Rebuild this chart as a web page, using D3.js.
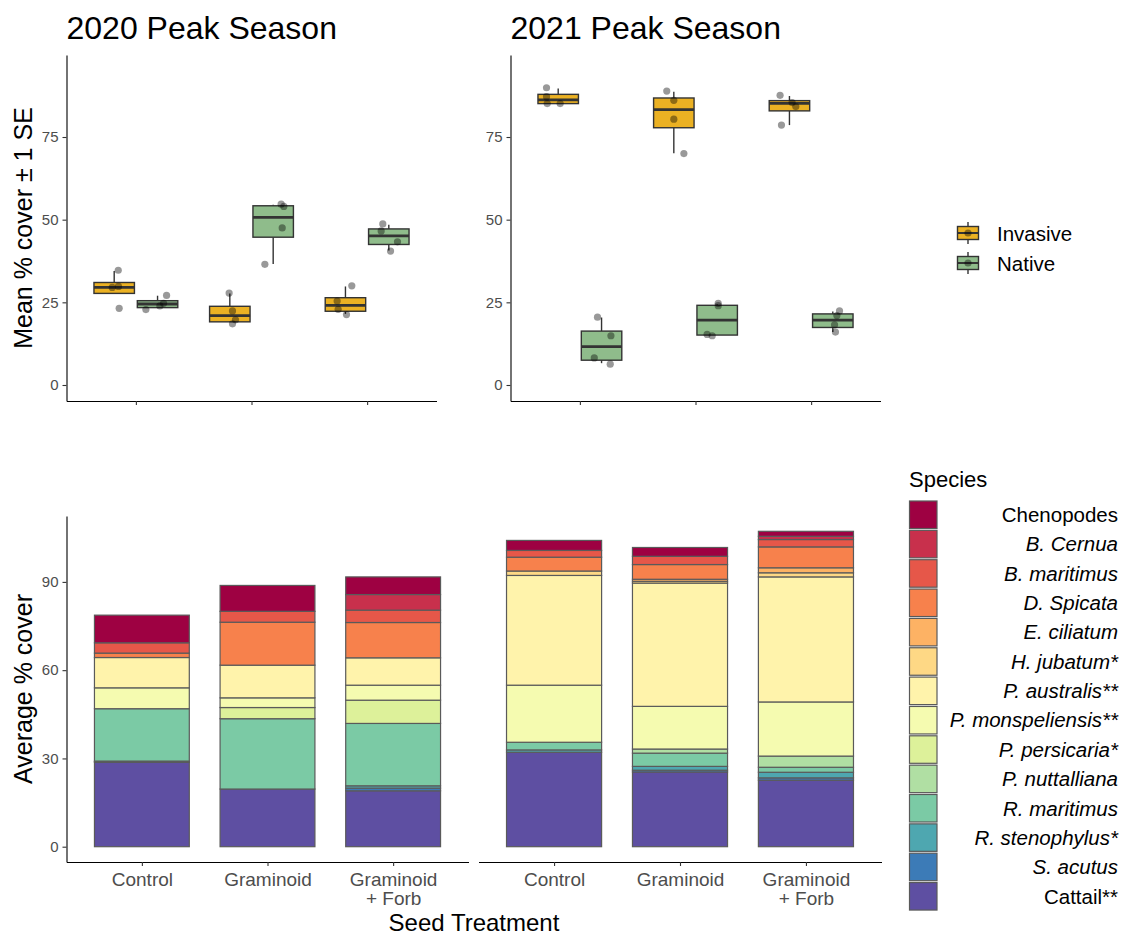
<!DOCTYPE html>
<html>
<head>
<meta charset="utf-8">
<script src="https://cdn.jsdelivr.net/npm/d3@7"></script>
<style>
  body { margin: 0; background: #fff; }
  svg { display: block; }
  text { font-family: "Liberation Sans", Arial, sans-serif; }
</style>
</head>
<body>
<svg id="chart" width="1121" height="936"></svg>
<script>
// ---------------- data ----------------
const treatments = ["Control", "Graminoid", "Graminoid + Forb"];
const groups = ["Invasive", "Native"];
const panelTitles = ["2020 Peak Season", "2021 Peak Season"];
const boxTicks = [0, 25, 50, 75];
const barTicks = [0, 30, 60, 90];

// box summaries per treatment: [lower whisker, Q1, median, Q3, upper whisker]
const box2020Invasive = [[27.7, 27.7, 29.5, 31.0, 34.5], [19.1, 19.1, 21.0, 23.8, 27.7], [21.5, 22.3, 24.1, 26.4, 29.8]];
const box2020Native   = [[23.4, 23.4, 24.5, 25.5, 27.0], [36.6, 44.7, 50.7, 54.2, 54.5], [40.7, 42.5, 45.1, 47.2, 48.5]];
const box2021Invasive = [[85.1, 85.1, 86.2, 87.9, 89.7], [70.1, 77.8, 83.3, 86.8, 88.7], [78.6, 82.9, 85.2, 86.0, 87.4]];
const box2021Native   = [[6.6, 7.5, 11.6, 16.3, 20.4], [15.1, 15.1, 19.6, 24.1, 24.4], [16.0, 17.4, 19.6, 21.5, 22.2]];

// plot-level observations per treatment
const obs2020Invasive = [[34.7, 29.5, 29.8, 23.2], [27.8, 22.4, 19.7, 18.5], [30.0, 25.4, 22.9, 21.3]];
const obs2020Native   = [[27.1, 22.8, 23.9, 24.7], [54.7, 54.0, 47.5, 36.5], [48.7, 46.6, 43.3, 40.5]];
const obs2021Invasive = [[89.9, 87.2, 85.1, 85.1], [88.9, 86.1, 80.4, 70.0], [87.6, 85.4, 84.2, 78.6]];
const obs2021Native   = [[20.5, 14.9, 8.2, 6.3], [24.7, 24.0, 15.3, 14.9], [22.4, 21.0, 18.2, 16.0]];

// horizontal jitter of each observation, as a fraction of the category step
const jit2020Invasive = [[0.035, -0.017, 0.037, 0.043], [-0.006, 0.023, 0.049, 0.023], [0.055, -0.072, -0.063, 0.009]];
const jit2020Native   = [[0.078, -0.101, 0.020, 0.052], [0.069, 0.092, 0.078, -0.072], [-0.052, -0.066, 0.075, 0.015]];
const jit2021Invasive = [[-0.101, -0.101, -0.095, 0.017], [-0.061, 0.0, 0.0, 0.087], [-0.081, 0.023, 0.055, -0.069]];
const jit2021Native   = [[-0.035, 0.081, -0.063, 0.075], [0.009, 0.009, -0.087, -0.043], [0.058, 0.035, 0.015, 0.023]];

// species, in legend order (top of stack first)
const species = ["Chenopodes", "B. Cernua", "B. maritimus", "D. Spicata", "E. ciliatum", "H. jubatum*",
  "P. australis**", "P. monspeliensis**", "P. persicaria*", "P. nuttalliana", "R. maritimus",
  "R. stenophylus*", "S. acutus", "Cattail**"];
const uprightSpecies = ["Chenopodes", "Cattail**"];

// average % cover per species (legend order)
const cover2020Control   = [9.4, 0, 3.5, 1.5, 0, 0, 10.3, 7.1, 0, 0, 17.8, 0.2, 0.2, 28.7];
const cover2020Graminoid = [8.8, 0, 3.7, 14.6, 0, 0, 11.1, 3.3, 3.8, 0, 23.9, 0, 0, 19.6];
const cover2020GramForb  = [6.0, 5.3, 4.2, 12.0, 0, 0, 9.3, 5.1, 7.9, 0, 21.2, 0.8, 0.9, 19.0];
const cover2021Control   = [3.4, 0, 2.3, 4.7, 0, 1.5, 37.3, 19.4, 0, 0, 2.6, 0.8, 0, 32.1];
const cover2021Graminoid = [3.0, 0, 2.8, 5.0, 0.7, 0.6, 41.9, 14.5, 0, 1.4, 4.5, 1.3, 0.6, 25.4];
const cover2021GramForb  = [1.7, 1.1, 2.5, 7.1, 1.7, 1.4, 42.5, 18.4, 0, 3.8, 1.7, 1.9, 0.8, 22.6];

// ---------------- styling ----------------
const groupFill = { Invasive: "#EBB123", Native: "#8FBC8B" };
const spectral = ["#9E0142", "#D53E4F", "#F46D43", "#FDAE61", "#FEE08B", "#FFFFBF",
                  "#E6F598", "#ABDDA4", "#66C2A5", "#3288BD", "#5E4FA2"];
const ramp = d3.piecewise(d3.interpolateRgb, spectral);
const speciesColor = d3.scaleOrdinal()
  .domain(species)
  .range(species.map((_, i) => ramp(i / (species.length - 1))));

const svg = d3.select("#chart");
const FONT_TICK = 15, FONT_XTICK = 19, FONT_AXIS = 25, FONT_TITLE = 32, FONT_LEGEND = 20.5;
const tickGrey = "#4D4D4D";
const lineDark = "#333";

function styleAxis(g) {
  g.select(".domain").attr("stroke", "#000").attr("stroke-width", 1.1);
  g.selectAll(".tick line").attr("stroke", lineDark).attr("stroke-width", 1.1);
  g.selectAll(".tick text").attr("fill", tickGrey).attr("font-family", "'Liberation Sans', Arial, sans-serif");
}

// ---------------- top row: boxplots ----------------
const topY = d3.scaleLinear().domain([-4.84, 99.8]).range([401, 55]);
const topPanels = [
  { x0: 66.5, x1: 436.5, boxes: [box2020Invasive, box2020Native], obs: [obs2020Invasive, obs2020Native], jit: [jit2020Invasive, jit2020Native] },
  { x0: 510.5, x1: 880.5, boxes: [box2021Invasive, box2021Native], obs: [obs2021Invasive, obs2021Native], jit: [jit2021Invasive, jit2021Native] }
];

topPanels.forEach((p, pi) => {
  const x = d3.scalePoint().domain(treatments).range([p.x0, p.x1]).padding(0.6);
  const step = x.step();
  const dodge = 0.1875 * step, bw = 0.35 * step;
  const g = svg.append("g");

  groups.forEach((grp, gi) => {
    const off = gi === 0 ? -dodge : dodge;
    treatments.forEach((t, ti) => {
      const s = p.boxes[gi][ti];
      const cx = x(t) + off;
      const bg = g.append("g");
      // whiskers
      bg.append("line").attr("x1", cx).attr("x2", cx).attr("y1", topY(s[3])).attr("y2", topY(s[4]))
        .attr("stroke", lineDark).attr("stroke-width", 1.4);
      bg.append("line").attr("x1", cx).attr("x2", cx).attr("y1", topY(s[1])).attr("y2", topY(s[0]))
        .attr("stroke", lineDark).attr("stroke-width", 1.4);
      // box
      bg.append("rect").attr("x", cx - bw / 2).attr("width", bw)
        .attr("y", topY(s[3])).attr("height", topY(s[1]) - topY(s[3]))
        .attr("fill", groupFill[grp]).attr("stroke", lineDark).attr("stroke-width", 1.4);
      // median
      bg.append("line").attr("x1", cx - bw / 2).attr("x2", cx + bw / 2)
        .attr("y1", topY(s[2])).attr("y2", topY(s[2]))
        .attr("stroke", lineDark).attr("stroke-width", 2.8);
    });
  });

  // observations
  groups.forEach((grp, gi) => {
    const off = gi === 0 ? -dodge : dodge;
    treatments.forEach((t, ti) => {
      p.obs[gi][ti].forEach((v, k) => {
        g.append("circle")
          .attr("cx", x(t) + off + p.jit[gi][ti][k] * step)
          .attr("cy", topY(v)).attr("r", 3.6)
          .attr("fill", "#000").attr("fill-opacity", 0.4);
      });
    });
  });

  // axes
  g.append("g").attr("transform", `translate(${p.x0},0)`)
    .call(d3.axisLeft(topY).tickValues(boxTicks).tickSize(4).tickSizeOuter(0).tickPadding(4))
    .call(styleAxis)
    .selectAll(".tick text").attr("font-size", FONT_TICK);
  g.append("g").attr("transform", "translate(0,401)")
    .call(d3.axisBottom(x).tickSize(4).tickSizeOuter(0).tickFormat(""))
    .call(styleAxis);

  svg.append("text").attr("x", p.x0).attr("y", 39)
    .attr("font-size", FONT_TITLE).attr("fill", "#000").text(panelTitles[pi]);
});

svg.append("text")
  .attr("transform", `translate(32,${(55 + 401) / 2}) rotate(-90)`)
  .attr("text-anchor", "middle").attr("font-size", FONT_AXIS).text("Mean % cover \u00B1 1 SE");

// boxplot legend
groups.forEach((grp, i) => {
  const cy = 233 + i * 30, cx = 968;
  const lg = svg.append("g");
  lg.append("line").attr("x1", cx).attr("x2", cx).attr("y1", cy - 11).attr("y2", cy + 11)
    .attr("stroke", lineDark).attr("stroke-width", 1.4);
  lg.append("rect").attr("x", cx - 10.5).attr("y", cy - 6.5).attr("width", 21).attr("height", 13)
    .attr("fill", groupFill[grp]).attr("stroke", lineDark).attr("stroke-width", 1.4);
  lg.append("line").attr("x1", cx - 10.5).attr("x2", cx + 10.5).attr("y1", cy).attr("y2", cy)
    .attr("stroke", lineDark).attr("stroke-width", 2);
  lg.append("circle").attr("cx", cx).attr("cy", cy).attr("r", 3.6).attr("fill", "#000").attr("fill-opacity", 0.4);
  lg.append("text").attr("x", 997).attr("y", cy + 7.5).attr("font-size", FONT_LEGEND).text(grp);
});

// ---------------- bottom row: stacked bars ----------------
const botY = d3.scaleLinear().domain([-5.2, 112.4]).range([862, 516]);
const stackKeys = species.slice().reverse();   // Cattail at the base
const botPanels = [
  { x0: 66.5, x1: 468.5, cover: [cover2020Control, cover2020Graminoid, cover2020GramForb], yAxis: true },
  { x0: 478.5, x1: 881.5, cover: [cover2021Control, cover2021Graminoid, cover2021GramForb], yAxis: false }
];

botPanels.forEach(p => {
  const x = d3.scalePoint().domain(treatments).range([p.x0, p.x1]).padding(0.6);
  const bw = 0.755 * x.step();
  const rows = treatments.map((t, ti) => {
    const r = { treatment: t };
    species.forEach((s, si) => { r[s] = p.cover[ti][si]; });
    return r;
  });
  const series = d3.stack().keys(stackKeys)(rows);
  const g = svg.append("g");
  series.forEach(layer => {
    layer.forEach(d => {
      if (d[1] - d[0] <= 0) return;
      g.append("rect")
        .attr("x", x(d.data.treatment) - bw / 2).attr("width", bw)
        .attr("y", botY(d[1])).attr("height", botY(d[0]) - botY(d[1]))
        .attr("fill", speciesColor(layer.key))
        .attr("stroke", "#5a5a5a").attr("stroke-width", 1.2);
    });
  });

  if (p.yAxis) {
    g.append("g").attr("transform", `translate(${p.x0},0)`)
      .call(d3.axisLeft(botY).tickValues(barTicks).tickSize(4).tickSizeOuter(0).tickPadding(4))
      .call(styleAxis)
      .selectAll(".tick text").attr("font-size", FONT_TICK);
  }
  const xa = g.append("g").attr("transform", "translate(0,862)")
    .call(d3.axisBottom(x).tickSize(4).tickSizeOuter(0).tickFormat(""))
    .call(styleAxis);
  xa.selectAll(".tick").each(function(t) {
    const lines = t === "Graminoid + Forb" ? ["Graminoid", "+ Forb"] : [t];
    const txt = d3.select(this).append("text")
      .attr("fill", tickGrey).attr("font-size", FONT_XTICK).attr("text-anchor", "middle");
    lines.forEach((ln, li) => {
      txt.append("tspan").attr("x", 0).attr("y", 24 + li * 19).text(ln);
    });
  });
});

svg.append("text")
  .attr("transform", `translate(32,${(516 + 862) / 2}) rotate(-90)`)
  .attr("text-anchor", "middle").attr("font-size", FONT_AXIS).text("Average % cover");
svg.append("text").attr("x", (66.5 + 881.5) / 2).attr("y", 931)
  .attr("text-anchor", "middle").attr("font-size", FONT_AXIS - 1).text("Seed Treatment");

// species legend
svg.append("text").attr("x", 909).attr("y", 487).attr("font-size", 22).text("Species");
species.forEach((s, i) => {
  const top = 501 + i * 29.35;
  svg.append("rect").attr("x", 909.5).attr("y", top).attr("width", 27.5).attr("height", 27.5)
    .attr("fill", speciesColor(s)).attr("stroke", "#5a5a5a").attr("stroke-width", 1.2);
  svg.append("text").attr("x", 1118).attr("y", top + 21)
    .attr("text-anchor", "end").attr("font-size", FONT_LEGEND)
    .attr("font-style", uprightSpecies.includes(s) ? "normal" : "italic")
    .text(s);
});
</script>
</body>
</html>
